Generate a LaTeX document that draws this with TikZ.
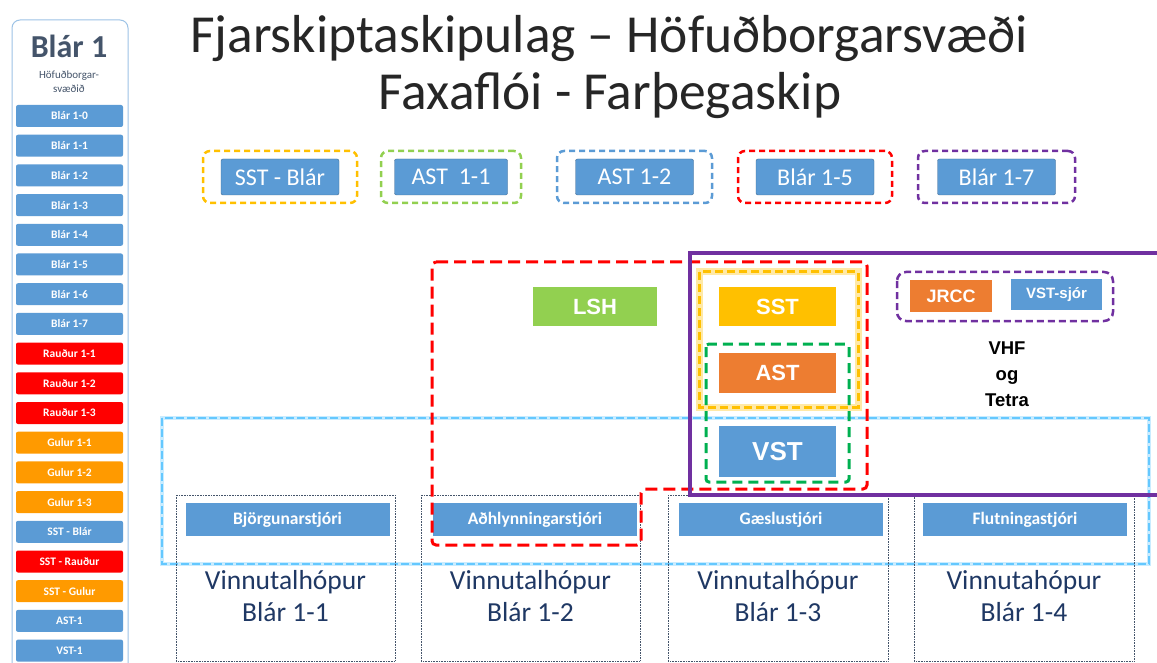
\documentclass[tikz,border=0pt]{standalone}
\usepackage{fontspec}
\setmainfont{Carlito}
\newfontfamily\arialfont{Liberation Sans}
\definecolor{pptblue}{HTML}{5B9BD5}
\definecolor{pptorange}{HTML}{ED7D31}
\definecolor{pptgold}{HTML}{FFC000}
\definecolor{pptlime}{HTML}{92D050}
\definecolor{pptgreen}{HTML}{00B050}
\definecolor{pptpurple}{HTML}{7030A0}
\definecolor{pptred}{HTML}{FF0000}
\definecolor{gulur}{HTML}{FF9A00}
\definecolor{skyline}{RGB}{100,200,255}
\definecolor{panelline}{HTML}{9DC3E6}
\definecolor{navytext}{HTML}{1F3864}
\definecolor{slate}{HTML}{44546A}
\definecolor{titlegray}{HTML}{262626}
\tikzset{
  listbtn/.style={fill=pptblue, rounded corners=2pt, minimum width=107pt, minimum height=22pt,
    inner sep=0pt, text=white, font=\bfseries\fontsize{11.5}{12}\selectfont},
  topframe/.style={draw, line width=2.5pt, dash pattern=on 6pt off 4pt, rounded corners=7pt,
    minimum width=154pt, minimum height=52pt, inner sep=0pt},
  topbtn/.style={fill=pptblue, draw=pptblue!70!black, line width=0.4pt, rounded corners=2pt,
    minimum width=118pt, minimum height=36pt, inner sep=0pt, text=white, font=\fontsize{24}{26}\selectfont},
  unitbox/.style={inner sep=0pt, text=white, font=\arialfont\bfseries\fontsize{22}{24}\selectfont},
  rolebtn/.style={fill=pptblue, minimum width=204pt, minimum height=33pt, inner sep=0pt,
    text=white, font=\bfseries\fontsize{17.5}{19}\selectfont},
  groupbox/.style={draw=slate, line width=0.6pt, densely dotted},
  grouptext/.style={align=center, text=navytext, font=\fontsize{27.5}{32}\selectfont}
}
\begin{document}
\begin{tikzpicture}[x=1pt,y=-1pt]
            \useasboundingbox[fill=white] (0,0) rectangle (1157,663);
            \node[anchor=base, text=titlegray, font=\fontsize{53.5}{60}\selectfont] (title1) at (609,53) {Fjarskiptaskipulag -- Höfuðborgarsvæði};
            \node[anchor=base, text=titlegray, font=\fontsize{53.5}{60}\selectfont] (title2) at (610,110) {Faxaflói - Farþegaskip};
            \begin{scope}
                \draw[panelline, line width=1pt, rounded corners=8pt] (12,20) rectangle (128,690);
                \node[anchor=base, text=slate, font=\bfseries\fontsize{32}{34}\selectfont] (paneltitle) at (69,58) {Blár 1};
                \node[align=center, text=slate, font=\fontsize{11}{14}\selectfont] (panelsub) at (69,82) {Höfuðborgar-\\svæðið};
                \node[listbtn] (bl10) at (69.5,116) {Blár 1-0};
                \node[listbtn] (bl11) at (69.5,145.7) {Blár 1-1};
                \node[listbtn] (bl12) at (69.5,175.4) {Blár 1-2};
                \node[listbtn] (bl13) at (69.5,205.1) {Blár 1-3};
                \node[listbtn] (bl14) at (69.5,234.8) {Blár 1-4};
                \node[listbtn] (bl15) at (69.5,264.5) {Blár 1-5};
                \node[listbtn] (bl16) at (69.5,294.2) {Blár 1-6};
                \node[listbtn] (bl17) at (69.5,323.9) {Blár 1-7};
                \node[listbtn, fill=pptred] (ra11) at (69.5,353.6) {Rauður 1-1};
                \node[listbtn, fill=pptred] (ra12) at (69.5,383.3) {Rauður 1-2};
                \node[listbtn, fill=pptred] (ra13) at (69.5,413) {Rauður 1-3};
                \node[listbtn, fill=gulur] (gu11) at (69.5,442.7) {Gulur 1-1};
                \node[listbtn, fill=gulur] (gu12) at (69.5,472.4) {Gulur 1-2};
                \node[listbtn, fill=gulur] (gu13) at (69.5,502.1) {Gulur 1-3};
                \node[listbtn] (sstbl) at (69.5,531.8) {SST - Blár};
                \node[listbtn, fill=pptred] (sstra) at (69.5,561.5) {SST - Rauður};
                \node[listbtn, fill=gulur] (sstgu) at (69.5,591.2) {SST - Gulur};
                \node[listbtn] (ast1) at (69.5,620.9) {AST-1};
                \node[listbtn] (vst1) at (69.5,650.6) {VST-1};
            \end{scope}
            \node[topframe, draw=pptgold] (fsst) at (280,177) {};
            \node[topbtn] (bsst) at (fsst) {SST - Blár};
            \node[topframe, draw=pptlime, minimum width=140pt] (fast11) at (451,177) {};
            \node[topbtn, minimum width=113pt] (bast11) at (fast11) {AST\ \ 1-1};
            \node[topframe, draw=pptblue, minimum width=155pt] (fast12) at (634.5,177) {};
            \node[topbtn] (bast12) at (fast12) {AST 1-2};
            \node[topframe, draw=pptred] (fbl15) at (815,177) {};
            \node[topbtn] (bbl15) at (fbl15) {Blár 1-5};
            \node[topframe, draw=pptpurple, minimum width=157pt] (fbl17) at (996.5,177) {};
            \node[topbtn] (bbl17) at (fbl17) {Blár 1-7};
            \draw[skyline!35, line width=4pt] (162,418) rectangle (1149,564);
            \draw[skyline, line width=1.3pt, dash pattern=on 8pt off 3pt] (162,418) rectangle (1149,564);
            \draw[groupbox] (176,495) rectangle (395,661);
            \draw[groupbox] (421,495) rectangle (640,661);
            \draw[groupbox] (668,495) rectangle (888,661);
            \draw[groupbox] (914,495) rectangle (1134,661);
            \node[rolebtn] (bjorg) at (287.5,519.5) {Björgunarstjóri};
            \node[rolebtn] (adhlyn) at (535,519.5) {Aðhlynningarstjóri};
            \node[rolebtn] (gaesla) at (781,519.5) {Gæslustjóri};
            \node[rolebtn] (flutn) at (1025,519.5) {Flutningastjóri};
            \node[grouptext] (vh11) at (285.5,596) {Vinnutalhópur\\Blár 1-1};
            \node[grouptext] (vh12) at (530.5,596) {Vinnutalhópur\\Blár 1-2};
            \node[grouptext] (vh13) at (778,596) {Vinnutalhópur\\Blár 1-3};
            \node[grouptext] (vh14) at (1024,596) {Vinnutahópur\\Blár 1-4};
            \node[unitbox, fill=pptlime, minimum width=124pt, minimum height=39pt] (lsh) at (595,306.5) {LSH};
            \node[unitbox, fill=pptgold, minimum width=117pt, minimum height=39pt] (sst) at (777.5,306.5) {SST};
            \node[unitbox, fill=pptorange, minimum width=117pt, minimum height=40pt] (ast) at (777.5,373) {AST};
            \node[unitbox, fill=pptblue, minimum width=117pt, minimum height=51pt, font=\arialfont\bfseries\fontsize{26}{28}\selectfont] (vst) at (777.5,451.5) {VST};
            \node[unitbox, fill=pptorange, minimum width=82pt, minimum height=32pt, font=\arialfont\bfseries\fontsize{18}{20}\selectfont] (jrcc) at (951,296) {JRCC};
            \node[unitbox, fill=pptblue, minimum width=91pt, minimum height=31pt, font=\arialfont\bfseries\fontsize{15}{17}\selectfont] (vstsjor) at (1056.5,294.5) {VST-sjór};
            \node[align=center, font=\arialfont\bfseries\fontsize{18.5}{26}\selectfont] (vhf) at (1007,374) {VHF\\og\\Tetra};
            \draw[pptred, line width=3pt, dash pattern=on 12pt off 6pt, rounded corners=4pt] (432,262) -- (867,262) -- (867,489) -- (641,489) -- (641,545) -- (432,545) -- cycle;
            \draw[pptgold!35, line width=7pt] (699,272) rectangle (858,407);
            \draw[pptgold, line width=3pt, dash pattern=on 8pt off 4pt] (699,272) rectangle (858,407);
            \draw[pptgreen, line width=3pt, dash pattern=on 10pt off 6pt, rounded corners=3pt] (706,344) rectangle (849,482);
            \draw[pptpurple, line width=2.5pt, dash pattern=on 7pt off 4pt, rounded corners=9pt] (897,272) rectangle (1113,321);
            \draw[pptpurple, line width=4pt] (690,253) rectangle (1175,495);
        \end{tikzpicture}
\end{document}
